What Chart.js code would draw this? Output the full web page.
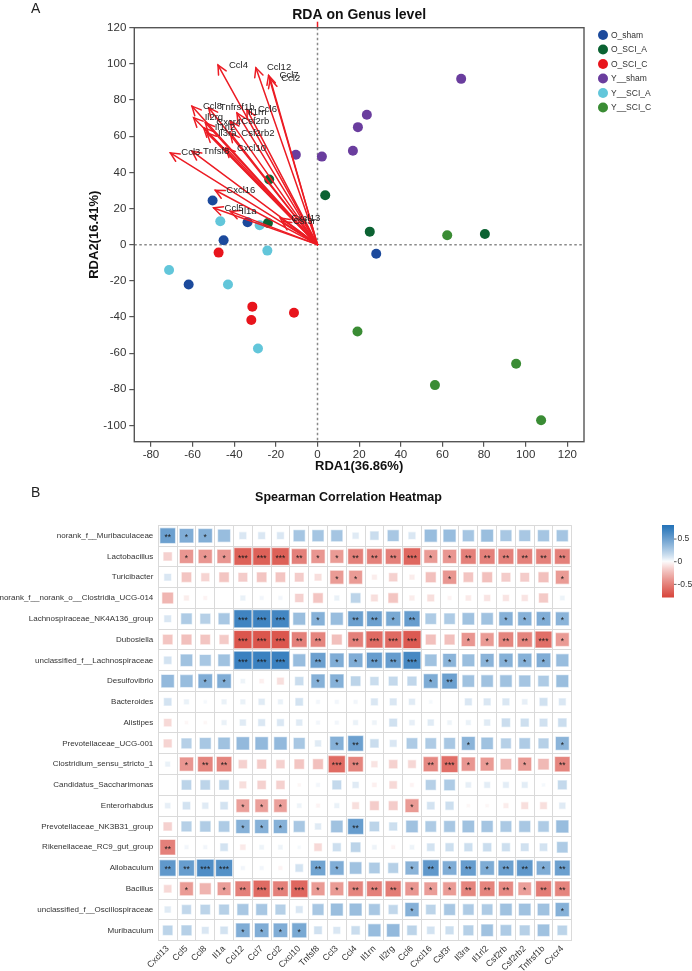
<!DOCTYPE html>
<html><head><meta charset="utf-8">
<script src="https://cdn.jsdelivr.net/npm/chart.js@4.4.0/dist/chart.umd.min.js"></script>
<style>
html,body{margin:0;padding:0;background:#fff;width:692px;height:971px;overflow:hidden;}
#rda{position:absolute;left:0;top:0;}
#heat{position:absolute;left:0;top:480px;}
.panel{position:absolute;font:14px 'Liberation Sans',Arial,sans-serif;color:#222;}
</style></head><body>
<canvas id="rda" width="692" height="480"></canvas>
<canvas id="heat" width="692" height="491"></canvas>
<div class="panel" style="left:31px;top:0px">A</div>
<div class="panel" style="left:31px;top:484px">B</div>
<script>
// ---------- Panel A data ----------
const groupNames = ['O_sham','O_SCI_A','O_SCI_C','Y__sham','Y__SCI_A','Y__SCI_C'];
const groupColors = ['#1c4a9c','#0b6232','#e8141c','#6a3d9e','#62c6da','#3a8c34'];
const oShamX = [-61.9,-50.4,-45.1,-33.6,28.2];
const oShamY = [-22,24.4,2.4,12.4,-5];
const oSciAX = [-23.2,-23.8,3.7,25.1,80.4];
const oSciAY = [36,12,27.3,7.2,5.9];
const oSciCX = [-47.5,-31.3,-31.8,-11.3];
const oSciCY = [-4.4,-34.3,-41.7,-37.7];
const yShamX = [-10.4,2.1,17,19.4,23.7,69];
const yShamY = [49.7,48.7,51.9,65,71.8,91.7];
const ySciAX = [-71.3,-46.7,-43,-28.6,-27.8,-24.1];
const ySciAY = [-14,12.9,-22,-57.4,10.7,-3.3];
const ySciCX = [19.2,56.4,62.3,95.4,107.4];
const ySciCY = [-48,-77.7,5.2,-65.9,-97.1];
const envNames = ['Ccl4','Ccl12','Ccl7','Ccl2','Ccl8','Tnfrsf1b','Il1rn','Ccl6','Il2rg','Csf2rb','Cxcr4','Il1rl2','Il3ra','Csf2rb2','Cxcl10','Ccl3','Tnfsf8','Cxcl16','Ccl5','Il1a','Cxcl13','Csf3r'];
const envX = [-47.8,-29.6,-23.5,-22.7,-60.3,-52.3,-38.7,-33.9,-59.5,-41.9,-53.9,-54.7,-53.1,-41.9,-44,-70.7,-60.3,-49.1,-49.9,-41.9,-17.9,-17.1];
const envY = [99.3,97.8,93.6,91.7,76.6,75.7,72.9,74.7,70.2,68.3,67.4,64.6,61.8,61.8,53.5,50.8,51.7,30.1,20.3,18.4,14.8,12.9];
const rdaXTicks = [-80,-60,-40,-20,0,20,40,60,80,100,120];
const rdaYTicks = [-100,-80,-60,-40,-20,0,20,40,60,80,100,120];

// ---------- Panel B data ----------
const genera = ['norank_f__Muribaculaceae','Lactobacillus','Turicibacter','norank_f__norank_o__Clostridia_UCG-014','Lachnospiraceae_NK4A136_group','Dubosiella','unclassified_f__Lachnospiraceae','Desulfovibrio','Bacteroides','Alistipes','Prevotellaceae_UCG-001','Clostridium_sensu_stricto_1','Candidatus_Saccharimonas','Enterorhabdus','Prevotellaceae_NK3B31_group','Rikenellaceae_RC9_gut_group','Allobaculum','Bacillus','unclassified_f__Oscillospiraceae','Muribaculum'];
const genes = ['Cxcl13','Ccl5','Ccl8','Il1a','Ccl12','Ccl7','Ccl2','Cxcl10','Tnfsf8','Ccl3','Ccl4','Il1rn','Il2rg','Ccl6','Cxcl16','Csf3r','Il3ra','Il1rl2','Csf2rb','Csf2rb2','Tnfrsf1b','Cxcr4'];
const rho = [
 [0.50,0.42,0.41,0.33,0.10,0.10,0.10,0.28,0.28,0.28,0.08,0.15,0.27,0.10,0.33,0.33,0.28,0.32,0.27,0.27,0.28,0.28],
 [-0.15,-0.40,-0.40,-0.40,-0.65,-0.65,-0.65,-0.50,-0.40,-0.38,-0.50,-0.50,-0.50,-0.62,-0.38,-0.40,-0.50,-0.50,-0.50,-0.50,-0.50,-0.50],
 [0.10,-0.20,-0.14,-0.20,-0.17,-0.20,-0.20,-0.17,-0.10,-0.38,-0.38,-0.05,-0.15,-0.05,-0.22,-0.40,-0.20,-0.22,-0.17,-0.17,-0.22,-0.38],
 [-0.26,-0.05,-0.03,0.00,0.05,0.03,0.03,-0.15,-0.20,0.05,0.20,-0.10,-0.20,-0.05,-0.10,-0.03,-0.06,-0.08,-0.08,-0.08,-0.18,0.04],
 [0.10,0.25,0.22,0.27,0.68,0.68,0.67,0.32,0.40,0.33,0.50,0.50,0.45,0.52,0.25,0.25,0.30,0.30,0.40,0.40,0.42,0.38],
 [-0.20,-0.22,-0.20,-0.18,-0.70,-0.70,-0.70,-0.50,-0.48,-0.22,-0.50,-0.60,-0.60,-0.68,-0.22,-0.22,-0.40,-0.38,-0.48,-0.48,-0.58,-0.38],
 [0.12,0.30,0.27,0.30,0.70,0.70,0.70,0.33,0.50,0.42,0.42,0.52,0.52,0.65,0.30,0.38,0.32,0.38,0.40,0.40,0.42,0.33],
 [0.35,0.33,0.42,0.42,0.04,-0.04,-0.10,0.15,0.40,0.40,0.20,0.15,0.17,0.18,0.43,0.50,0.30,0.30,0.30,0.28,0.25,0.32],
 [0.12,0.05,0.02,0.05,0.05,0.08,0.05,0.12,0.03,0.03,0.03,0.10,0.10,0.08,0.02,0.00,0.10,0.10,0.10,0.06,0.13,0.10],
 [-0.12,-0.02,-0.02,0.05,0.08,0.10,0.10,0.08,0.03,0.03,0.05,0.04,0.13,0.06,0.08,0.04,0.05,0.08,0.15,0.14,0.13,0.15],
 [-0.14,0.22,0.27,0.30,0.35,0.35,0.35,0.27,0.08,0.40,0.50,0.15,0.10,0.25,0.25,0.27,0.38,0.30,0.22,0.25,0.22,0.38],
 [0.05,-0.40,-0.48,-0.48,-0.15,-0.18,-0.15,-0.20,-0.22,-0.60,-0.48,-0.08,-0.15,-0.13,-0.46,-0.58,-0.40,-0.38,-0.25,-0.38,-0.25,-0.48],
 [0.00,0.20,0.20,0.20,-0.10,-0.15,-0.15,-0.02,0.03,0.17,0.08,-0.04,-0.12,-0.03,0.22,0.25,0.06,0.07,0.07,0.07,0.02,0.17],
 [0.06,0.12,0.08,0.12,-0.36,-0.36,-0.36,0.04,-0.03,0.05,-0.10,-0.17,-0.17,-0.38,0.12,0.14,-0.02,-0.02,-0.05,-0.10,-0.10,0.08],
 [-0.15,0.22,0.24,0.25,0.40,0.40,0.40,0.27,0.08,0.30,0.52,0.20,0.14,0.30,0.25,0.27,0.30,0.28,0.26,0.27,0.25,0.33],
 [-0.50,0.03,0.03,0.12,-0.06,0.04,0.04,0.02,-0.12,0.14,0.20,0.04,-0.03,0.04,0.12,0.14,0.14,0.15,0.14,0.13,0.12,0.25],
 [0.55,0.52,0.62,0.60,0.03,0.03,-0.03,0.12,0.48,0.42,0.30,0.25,0.22,0.38,0.55,0.42,0.52,0.43,0.50,0.55,0.42,0.50],
 [-0.12,-0.38,-0.27,-0.37,-0.50,-0.60,-0.50,-0.62,-0.38,-0.38,-0.48,-0.50,-0.52,-0.40,-0.37,-0.38,-0.48,-0.48,-0.46,-0.36,-0.52,-0.48],
 [0.08,0.18,0.20,0.22,0.27,0.27,0.22,0.10,0.27,0.32,0.32,0.27,0.18,0.40,0.20,0.27,0.25,0.25,0.30,0.30,0.30,0.40],
 [0.20,0.22,0.10,0.12,0.42,0.42,0.42,0.45,0.13,0.10,0.15,0.33,0.35,0.20,0.12,0.14,0.22,0.30,0.25,0.22,0.30,0.20]
];
const sig = [
 [2,1,1,0,0,0,0,0,0,0,0,0,0,0,0,0,0,0,0,0,0,0],
 [0,1,1,1,3,3,3,2,1,1,2,2,2,3,1,1,2,2,2,2,2,2],
 [0,0,0,0,0,0,0,0,0,1,1,0,0,0,0,1,0,0,0,0,0,1],
 [0,0,0,0,0,0,0,0,0,0,0,0,0,0,0,0,0,0,0,0,0,0],
 [0,0,0,0,3,3,3,0,1,0,2,2,1,2,0,0,0,0,1,1,1,1],
 [0,0,0,0,3,3,3,2,2,0,2,3,3,3,0,0,1,1,2,2,3,1],
 [0,0,0,0,3,3,3,0,2,1,1,2,2,3,0,1,0,1,1,1,1,0],
 [0,0,1,1,0,0,0,0,1,1,0,0,0,0,1,2,0,0,0,0,0,0],
 [0,0,0,0,0,0,0,0,0,0,0,0,0,0,0,0,0,0,0,0,0,0],
 [0,0,0,0,0,0,0,0,0,0,0,0,0,0,0,0,0,0,0,0,0,0],
 [0,0,0,0,0,0,0,0,0,1,2,0,0,0,0,0,1,0,0,0,0,1],
 [0,1,2,2,0,0,0,0,0,3,2,0,0,0,2,3,1,1,0,1,0,2],
 [0,0,0,0,0,0,0,0,0,0,0,0,0,0,0,0,0,0,0,0,0,0],
 [0,0,0,0,1,1,1,0,0,0,0,0,0,1,0,0,0,0,0,0,0,0],
 [0,0,0,0,1,1,1,0,0,0,2,0,0,0,0,0,0,0,0,0,0,0],
 [2,0,0,0,0,0,0,0,0,0,0,0,0,0,0,0,0,0,0,0,0,0],
 [2,2,3,3,0,0,0,0,2,1,0,0,0,1,2,1,2,1,2,2,1,2],
 [0,1,0,1,2,3,2,3,1,1,2,2,2,1,1,1,2,2,2,1,2,2],
 [0,0,0,0,0,0,0,0,0,0,0,0,0,1,0,0,0,0,0,0,0,1],
 [0,0,0,0,1,1,1,1,0,0,0,0,0,0,0,0,0,0,0,0,0,0]
];
const barTicks = [0.5, 0, -0.5];

// ---------- helpers ----------
const SANS = "'Liberation Sans', Arial, sans-serif";
function corrColor(r, a) {
  const t = Math.pow(Math.min(Math.abs(r) / 0.8, 1), 0.85);
  const end = r >= 0 ? [36, 114, 184] : [215, 66, 56];
  const c = end.map(v => Math.round(255 - t * (255 - v)));
  return 'rgba(' + c[0] + ',' + c[1] + ',' + c[2] + ',' + a + ')';
}
function sideFor(r) { return Math.min(17, 20.5 * Math.sqrt(Math.abs(r))); }

// ---------- Panel A ----------
const groupX = [oShamX, oSciAX, oSciCX, yShamX, ySciAX, ySciCX];
const groupY = [oShamY, oSciAY, oSciCY, yShamY, ySciAY, ySciCY];
const rdaDatasets = groupNames.map((n, g) => ({
  label: n,
  data: groupX[g].map((x, i) => ({ x: x, y: groupY[g][i] })),
  backgroundColor: groupColors[g],
  borderColor: groupColors[g],
  borderWidth: 0,
  pointRadius: 5,
  pointHoverRadius: 5
}));

const rdaPlugin = {
  id: 'rdaExtras',
  beforeDatasetsDraw(chart) {
    const { ctx, chartArea: a, scales: { x, y } } = chart;
    ctx.save();
    ctx.strokeStyle = '#8a8a8a';
    ctx.lineWidth = 1.5;
    ctx.setLineDash([2.5, 2.5]);
    const x0 = x.getPixelForValue(0), y0 = y.getPixelForValue(0);
    ctx.beginPath();
    ctx.moveTo(x0, a.top); ctx.lineTo(x0, a.bottom);
    ctx.moveTo(a.left, y0); ctx.lineTo(a.right, y0);
    ctx.stroke();
    ctx.restore();
  },
  afterDatasetsDraw(chart) {
    const { ctx, chartArea: a, scales: { x, y } } = chart;
    const x0 = x.getPixelForValue(0), y0 = y.getPixelForValue(0);
    ctx.save();
    ctx.strokeStyle = '#ec1c24';
    ctx.lineWidth = 1.5;
    ctx.lineCap = 'round';
    envNames.forEach((n, i) => {
      const x1 = x.getPixelForValue(envX[i]), y1 = y.getPixelForValue(envY[i]);
      ctx.beginPath(); ctx.moveTo(x0, y0); ctx.lineTo(x1, y1); ctx.stroke();
      const ang = Math.atan2(y1 - y0, x1 - x0), L = 10, h = 0.45;
      ctx.beginPath();
      ctx.moveTo(x1 - L * Math.cos(ang - h), y1 - L * Math.sin(ang - h));
      ctx.lineTo(x1, y1);
      ctx.lineTo(x1 - L * Math.cos(ang + h), y1 - L * Math.sin(ang + h));
      ctx.stroke();
    });
    ctx.fillStyle = '#222';
    ctx.font = '9.5px ' + SANS;
    ctx.textBaseline = 'middle';
    ctx.textAlign = 'left';
    envNames.forEach((n, i) => {
      const x1 = x.getPixelForValue(envX[i]), y1 = y.getPixelForValue(envY[i]);
      ctx.fillText(n, x1 + 11, y1);
    });
    // red mark at top of the vertical zero line
    ctx.strokeStyle = '#ec1c24'; ctx.lineWidth = 1.5; ctx.lineCap = 'butt';
    ctx.beginPath(); ctx.moveTo(x0, a.top - 6); ctx.lineTo(x0, a.top); ctx.stroke();
    // frame
    ctx.strokeStyle = '#555'; ctx.lineWidth = 1.4;
    ctx.strokeRect(a.left, a.top, a.right - a.left, a.bottom - a.top);
    // titles
    ctx.fillStyle = '#111';
    ctx.textAlign = 'center';
    ctx.font = 'bold 14px ' + SANS;
    ctx.fillText('RDA on Genus level', (a.left + a.right) / 2, 15);
    ctx.font = 'bold 13px ' + SANS;
    ctx.fillText('RDA1(36.86%)', (a.left + a.right) / 2, 466);
    ctx.save();
    ctx.translate(94, (a.top + a.bottom) / 2);
    ctx.rotate(-Math.PI / 2);
    ctx.fillText('RDA2(16.41%)', 0, 0);
    ctx.restore();
    // legend
    chart.data.datasets.forEach((d, i) => {
      const ly = 35 + i * 14.5;
      ctx.fillStyle = d.backgroundColor;
      ctx.beginPath(); ctx.arc(603, ly, 5, 0, Math.PI * 2); ctx.fill();
      ctx.fillStyle = '#333';
      ctx.textAlign = 'left';
      ctx.font = '8.5px ' + SANS;
      ctx.fillText(d.label, 611, ly + 0.5);
    });
    ctx.restore();
  }
};

new Chart(document.getElementById('rda'), {
  type: 'scatter',
  data: { datasets: rdaDatasets },
  options: {
    responsive: false, animation: false, events: [],
    layout: { padding: { left: 0, right: 108, top: 27.7, bottom: 0 } },
    plugins: { legend: { display: false }, tooltip: { enabled: false } },
    scales: {
      x: {
        type: 'linear', min: -88, max: 128,
        afterBuildTicks: s => { s.ticks = rdaXTicks.map(v => ({ value: v })); },
        afterFit: s => { s.height = 38.3; },
        grid: { drawOnChartArea: false, drawTicks: true, tickLength: 5, color: '#555', lineWidth: 1.2 },
        border: { display: false },
        ticks: { color: '#333', font: { family: SANS, size: 11.5 }, padding: 1, maxRotation: 0, autoSkip: false }
      },
      y: {
        type: 'linear', min: -109, max: 120,
        afterBuildTicks: s => { s.ticks = rdaYTicks.map(v => ({ value: v })); },
        afterFit: s => { s.width = 134.3; },
        grid: { drawOnChartArea: false, drawTicks: true, tickLength: 5, color: '#555', lineWidth: 1.2 },
        border: { display: false },
        ticks: { color: '#333', font: { family: SANS, size: 11.5 }, padding: 3, autoSkip: false }
      }
    }
  },
  plugins: [rdaPlugin]
});

// ---------- Panel B ----------
const heatData = [];
genera.forEach((g, i) => genes.forEach((c, j) => {
  heatData.push({ x: c, y: g, r: rho[i][j], s: sig[i][j] });
}));

const heatPlugin = {
  id: 'heatExtras',
  afterDatasetsDraw(chart) {
    const { ctx } = chart;
    const meta = chart.getDatasetMeta(0);
    ctx.save();
    ctx.fillStyle = '#1a1a1a';
    ctx.font = '8.5px ' + SANS;
    ctx.textAlign = 'center';
    ctx.textBaseline = 'middle';
    meta.data.forEach((el, k) => {
      const s = heatData[k].s;
      if (s > 0) ctx.fillText('*'.repeat(s), el.x, el.y + 2);
    });
    // title
    ctx.fillStyle = '#111';
    ctx.font = 'bold 12.5px ' + SANS;
    ctx.fillText('Spearman Correlation Heatmap', 348.5, 18);
    // colour bar
    const top = 45, bot = 117.5, lx = 662, w = 12;
    const vTop = 0.81, vBot = -0.79;
    const grad = ctx.createLinearGradient(0, top, 0, bot);
    for (let k = 0; k <= 20; k++) {
      const v = vTop + (vBot - vTop) * k / 20;
      grad.addColorStop(k / 20, corrColor(v, 1));
    }
    ctx.fillStyle = grad;
    ctx.fillRect(lx, top, w, bot - top);
    ctx.strokeStyle = '#666'; ctx.lineWidth = 1;
    ctx.fillStyle = '#333';
    ctx.font = '8.5px ' + SANS;
    ctx.textAlign = 'left';
    barTicks.forEach(v => {
      const py = top + (vTop - v) / (vTop - vBot) * (bot - top);
      ctx.beginPath(); ctx.moveTo(lx + w, py); ctx.lineTo(lx + w + 2.5, py); ctx.stroke();
      ctx.fillText(String(v), lx + w + 3.5, py);
    });
    ctx.restore();
  }
};

new Chart(document.getElementById('heat'), {
  type: 'scatter',
  data: {
    datasets: [{
      data: heatData,
      pointStyle: 'rect',
      pointRadius: c => sideFor(c.raw ? c.raw.r : 0) / Math.SQRT2,
      pointHoverRadius: c => sideFor(c.raw ? c.raw.r : 0) / Math.SQRT2,
      backgroundColor: c => corrColor(c.raw ? c.raw.r : 0, 1),
      borderColor: c => corrColor(c.raw ? c.raw.r : 0, 0.45),
      borderWidth: 1.2
    }]
  },
  options: {
    responsive: false, animation: false, events: [],
    layout: { padding: { left: 0, right: 120.3, top: 45.3, bottom: 0 } },
    plugins: { legend: { display: false }, tooltip: { enabled: false } },
    scales: {
      x: {
        type: 'category', labels: genes, offset: true,
        afterFit: s => { s.height = 30.3; },
        grid: { offset: true, drawTicks: false, color: '#dadada', lineWidth: 1 },
        border: { display: false },
        ticks: { color: '#333', font: { family: SANS, size: 8.8 }, padding: 3, minRotation: 45, maxRotation: 45, autoSkip: false }
      },
      y: {
        type: 'category', labels: genera, offset: true,
        afterFit: s => { s.width = 158.3; },
        grid: { offset: true, drawTicks: false, color: '#dadada', lineWidth: 1 },
        border: { display: false },
        ticks: { color: '#333', font: { family: SANS, size: 8 }, padding: 5, autoSkip: false }
      }
    }
  },
  plugins: [heatPlugin]
});
</script>
</body></html>
